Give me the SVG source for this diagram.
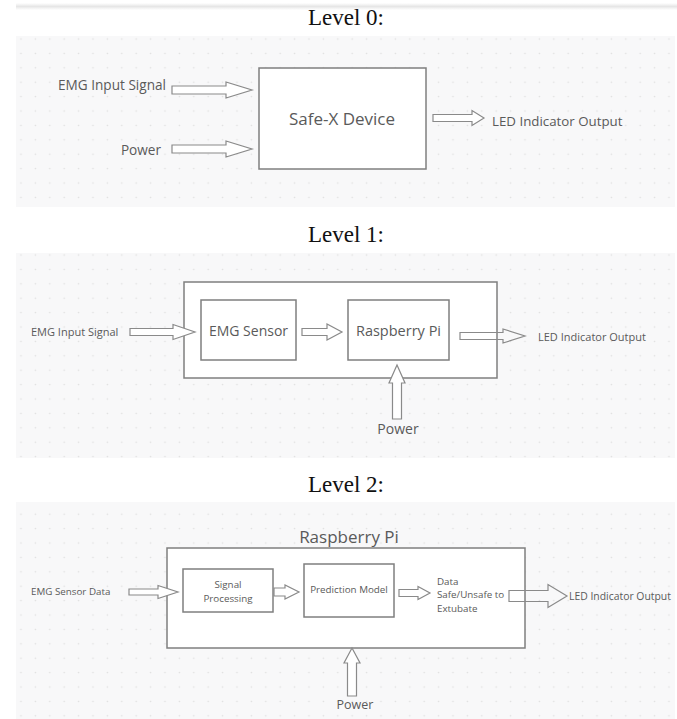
<svg xmlns="http://www.w3.org/2000/svg" width="677" height="719" viewBox="0 0 677 719">
<defs>
<pattern id="dots" x="13.8" y="31.8" width="14.4" height="14.4" patternUnits="userSpaceOnUse">
<rect width="14.4" height="14.4" fill="#f8f8f9"/>
<circle cx="7.2" cy="7.2" r="0.8" fill="#dedede"/>
</pattern>
<linearGradient id="topband" x1="0" y1="0" x2="0" y2="1">
<stop offset="0" stop-color="#ffffff"/>
<stop offset="0.5" stop-color="#e6e6e6"/>
<stop offset="1" stop-color="#ffffff"/>
</linearGradient>
<style>
.bg{fill:url(#dots)}
.box{fill:#ffffff;stroke:#7f7f7f;stroke-width:1.5}
.arr{fill:#ffffff;stroke:#8a8a8a;stroke-width:1.2;stroke-linejoin:miter}
.arrn{fill:none;stroke:#8a8a8a;stroke-width:1.2}
.title{font-family:"Liberation Serif","Times New Roman",serif;font-size:23px;fill:#111111;text-anchor:middle}
.lbl{font-family:"Open Sans","Noto Sans",sans-serif;fill:#5a5a5a}
.mid{text-anchor:middle}
</style>
</defs>
<rect x="16" y="3" width="661" height="7" fill="url(#topband)"/>
<rect class="bg" x="16" y="36" width="659" height="171"/>
<rect class="bg" x="16" y="253" width="659" height="205"/>
<rect class="bg" x="16" y="502" width="659" height="217"/>

<text class="title" x="346" y="25">Level 0:</text>
<text class="title" x="346" y="242">Level 1:</text>
<text class="title" x="346" y="492">Level 2:</text>

<g id="safex">
<rect class="box" x="259" y="68" width="167" height="101"/>
<text class="lbl mid" x="342" y="125" font-size="17">Safe-X Device</text>
</g>
<g id="l0-labels">
<text class="lbl" x="166" y="90" font-size="13.6" text-anchor="end">EMG Input Signal</text>
<text class="lbl" x="161" y="155" font-size="13.6" text-anchor="end">Power</text>
<text class="lbl" x="492" y="126" font-size="13.3">LED Indicator Output</text>
</g>

<g id="l1-outer">
<rect class="box" x="184" y="282" width="313" height="96"/>
</g>
<g id="emg-sensor">
<rect class="box" x="201" y="300" width="95" height="60"/>
<text class="lbl mid" x="248.5" y="336" font-size="14">EMG Sensor</text>
</g>
<g id="rpi1">
<rect class="box" x="348" y="300" width="101" height="60"/>
<text class="lbl mid" x="398.5" y="336" font-size="14.5">Raspberry Pi</text>
</g>
<g id="l1-labels">
<text class="lbl" x="31" y="336" font-size="11">EMG Input Signal</text>
<text class="lbl" x="538" y="341" font-size="11">LED Indicator Output</text>
<text class="lbl mid" x="398" y="434" font-size="14">Power</text>
</g>

<g id="l2-outer">
<text class="lbl mid" x="349" y="543" font-size="17">Raspberry Pi</text>
<rect class="box" x="167" y="548" width="358" height="100"/>
</g>
<g id="signal-proc">
<rect class="box" x="183" y="569" width="90" height="43"/>
<text class="lbl mid" x="228" y="588" font-size="9.8">Signal</text>
<text class="lbl mid" x="228" y="602" font-size="9.8">Processing</text>
</g>
<g id="pred-model">
<rect class="box" x="304" y="564" width="90" height="53"/>
<text class="lbl mid" x="349" y="593" font-size="9.8">Prediction Model</text>
</g>
<g id="l2-labels">
<text class="lbl" x="31" y="595" font-size="9.8">EMG Sensor Data</text>
<text class="lbl" x="437" y="585" font-size="9.8">Data</text>
<text class="lbl" x="437" y="598" font-size="9.8">Safe/Unsafe to</text>
<text class="lbl" x="437" y="612" font-size="9.8">Extubate</text>
<text class="lbl" x="569" y="600" font-size="10.4">LED Indicator Output</text>
<text class="lbl mid" x="355" y="709" font-size="12.5">Power</text>
</g>

<g id="connectors">
<path class="arr" d="M172,86 L226,86 L226,82 L252,90 L226,98 L226,94 L172,94 Z"/>
<path class="arr" d="M172,145 L226,145 L226,141 L252,149 L226,157 L226,153 L172,153 Z"/>
<path class="arr" d="M433,114.5 L472,114.5 L472,110.5 L484,118 L472,125.5 L472,121.5 L433,121.5 Z"/>

<path class="arr" d="M130,328.5 L173,328.5 L173,324.5 L195,332 L173,339.5 L173,335.5 L130,335.5 Z"/>
<path class="arr" d="M302,328.5 L327,328.5 L327,324 L342,332 L327,340 L327,335.5 L302,335.5 Z"/>
<path class="arrn" d="M460,332.5 L503,332.5 L503,329 L525,336 L503,343 L503,339.5 L460,339.5 Z"/>
<path class="arr" d="M392.5,419 L392.5,383 L389,383 L397,365 L405,383 L401.5,383 L401.5,419 Z"/>

<path class="arr" d="M129,589 L158,589 L158,585.5 L178,592 L158,598.5 L158,595 L129,595 Z"/>
<path class="arr" d="M274,588 L285,588 L285,585 L299,592 L285,599 L285,596 L274,596 Z"/>
<path class="arr" d="M399,589.5 L418,589.5 L418,586.5 L430,593 L418,599.5 L418,596.5 L399,596.5 Z"/>
<path class="arrn" d="M509,590.5 L548,590.5 L548,584.5 L567,596 L548,607.5 L548,601.5 L509,601.5 Z"/>
<path class="arr" d="M347.5,696 L347.5,663 L344,663 L352,648 L360,663 L356.5,663 L356.5,696 Z"/>
</g>
</svg>
